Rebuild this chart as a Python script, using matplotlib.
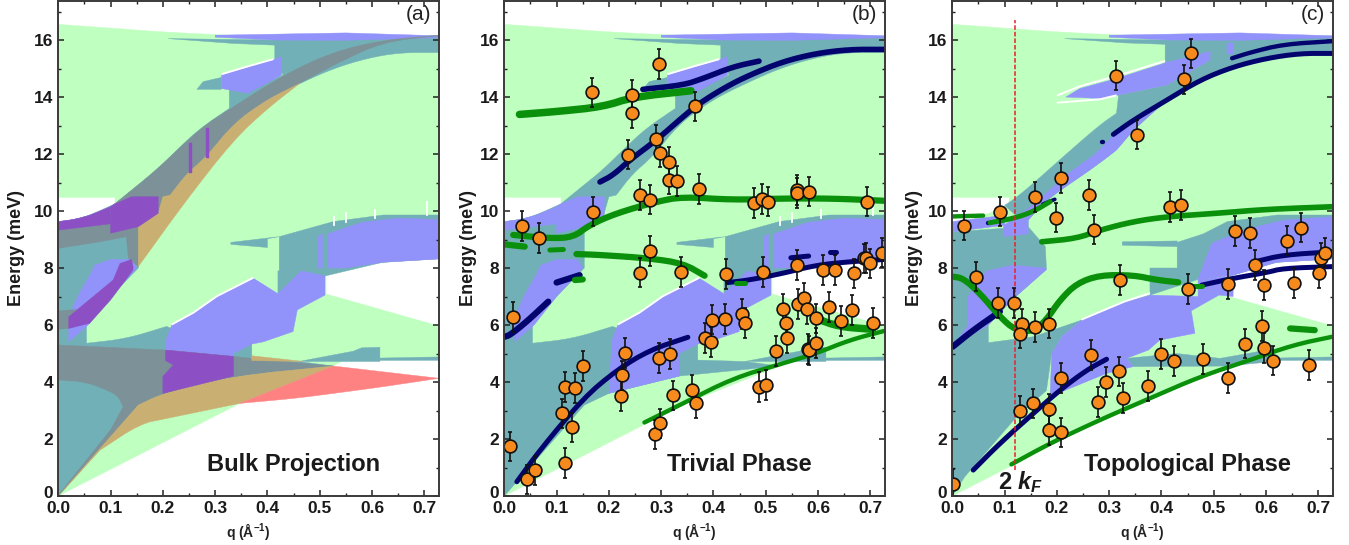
import matplotlib
matplotlib.use('Agg')
import matplotlib.pyplot as plt
from matplotlib.ticker import MultipleLocator
from matplotlib.transforms import ScaledTranslation

plt.rcParams['font.family'] = ['Liberation Sans', 'DejaVu Sans']
plt.rcParams['mathtext.fontset'] = 'custom'
plt.rcParams['mathtext.rm'] = 'Liberation Sans:bold'
plt.rcParams['mathtext.bf'] = 'Liberation Sans:bold'
plt.rcParams['mathtext.it'] = 'Liberation Sans:italic:bold'

GREEN = '#bfffbf'; TEAL = '#72b0b8'; BLUE = '#9292fb'; GREY = '#7d9298'
PURPLE = '#8c50c4'; TAN = '#c9b072'; RED = '#ff8282'; NAVY = '#04046e'; DGREEN = '#0a900a'
ORANGE = '#f78a1d'


def S(pts, n=2):
    """Corner-cutting used only to draw read-off outlines as smooth curves."""
    for _ in range(n):
        out = [pts[0]]
        for a, b in zip(pts[:-1], pts[1:]):
            out.append((.75*a[0]+.25*b[0], .75*a[1]+.25*b[1]))
            out.append((.25*a[0]+.75*b[0], .25*a[1]+.75*b[1]))
        out.append(pts[-1])
        pts = out
    return pts


# ---- regions (q, E) ----
green_top = [(.35,16.15),(.2,16.28),(.1,16.42),(0,16.55)]
green_outer = [(0,0),(.347,3.25),(.526,4.56),(.545,4.76),(.728,4.78),(.728,16.15)] + S(green_top)
white_topleft = [(0,10.46),(.108,10.46)] + S([(.108,10.25),(.06,9.85),(.03,9.7),(0,9.63)])
white_wedge = [(.513,7.1),(.728,5.98)] + S([(.728,8.32),(.62,8.2),(.56,7.95),(.513,7.74)])

edge_lens = [(.054,5.36),(.13,5.52),(.207,5.95)]
edge_band_up = [(.108,10.25),(.148,10.85),(.188,11.44),(.23,12.2),(.271,12.9),(.327,13.6)]
edge_band_low = [(.214,10.56),(.245,11.3),(.283,11.9),(.335,13.07),(.398,13.9),(.462,14.48),(.526,15.0),(.59,15.36),(.653,15.56),(.728,15.56)]
edge_left = [(0,9.63),(.03,9.7),(.06,9.85),(.108,10.25)]

teal_main = ([(0,0),(.153,3.19),(.2,3.6),(.335,4.21),(.526,4.56),(.46,4.72),(.37,4.77),(.37,5.35),(.335,5.0)]
             + S(edge_lens[::-1]) + [(.054,6.05),(.1,7.0),(.153,8.0),(.153,9.45),(.191,9.92),(.2,10.5)]
             + S(edge_band_low) + [(.728,16.1),(.414,16.0),(.21,16.05),(.335,15.88),(.414,15.82),(.414,15.3),
             (.43,14.77),(.39,14.45),(.327,14.25)] + S(edge_band_up[::-1]) + S(edge_left[::-1]))
teal_patch = [(.265,14.27),(.277,14.54),(.312,14.69),(.312,14.27)]
teal_mid = [(.4225,9.1),(.526,9.63),(.621,9.86),(.728,9.86),(.728,8.32),(.62,8.2),(.51,7.72),(.465,7.75),
            (.42,7.1),(.42,7.9),(.4225,7.9)]
teal_streak = [(.33,8.83),(.4,8.72),(.4,9.03),(.4225,9.1),(.33,8.9)]
teal_strip = [(.46,4.72),(.526,4.95),(.564,5.08),(.58,5.2),(.615,5.22),(.615,4.72)]
teal_dots = [(.615,4.76),(.728,4.76),(.728,4.88),(.615,4.84)]

blue_lower = [(.2,3.6),(.335,4.21),(.335,5.0),(.37,5.33),(.392,5.41),(.449,5.77),(.457,6.53),(.51,7.05),(.51,7.72),
              (.465,7.9),(.42,7.1),(.373,7.64),(.303,6.99),(.258,6.41),(.217,6.0),(.206,5.47)]
blue_mid = [(.516,8.0),(.516,9.2),(.58,9.6),(.65,9.75),(.728,9.7),(.728,8.32),(.62,8.2),(.55,8.0)]
blue_stick = [(.497,8.0),(.497,9.1),(.505,9.2),(.505,8.0)]
blue_diag = [(.02,5.42),(.057,6.0),(.1,7.0),(.15,8.0),(.14,8.3),(.1,8.3),(.07,8.1),(.065,7.9),(.04,7.1),(.02,6.3)]
blue_patch = [(.1,10.15),(.108,10.25),(.14,10.5),(.191,10.5),(.191,9.8),(.155,9.45),(.1,9.22)]
blue_strip = S(edge_left[:3]) + [(.1,10.15),(.1,9.55),(0,9.33)]
blue_cap = [(.3,16.17),(.55,16.25),(.728,16.15),(.728,16.08),(.55,15.99),(.414,16.0),(.3,16.1)]
blue_upper = [(.312,14.78),(.363,15.06),(.411,15.3),(.427,15.42),(.427,14.77),(.363,14.13),(.312,14.3)]
white_line_ab = [(.312,14.8),(.363,15.08),(.411,15.33)]
white_line_lower = [(.217,6.02),(.258,6.43),(.303,7.01),(.373,7.66)]
white_ticks_q = [.527,.551,.605,.706]
white_ticks_top = [9.8,9.92,10.05,10.33]
white_ticks_bot = [9.5,9.62,9.74,9.86]

# panel (a) red overlays
grey_band = ([(0,9.33),(.1,9.55),(.1,10.15)] + S([(.108,10.25),(.188,11.44),(.271,12.9),(.335,13.66),(.43,14.77),(.526,15.59),
             (.621,16.0),(.728,16.17)]) + S([(.728,16.15),(.621,15.94),(.526,15.12),(.462,14.48),(.398,13.9),(.335,13.07),(.283,11.9),
             (.245,11.3),(.214,10.56)]) + [(.2,10.5),(.191,9.92),(.153,9.45),(.153,8.05),(.134,8.34),(.13,9.1),(.08,8.92),(0,8.69)])
tan_band = ([(.153,8.05),(.153,9.45),(.191,9.92),(.2,10.5)] + S([(.214,10.56),(.245,11.3),(.283,11.9),(.335,13.07),(.398,13.9),
            (.462,14.48)]) + S([(.462,14.48),(.4,13.6),(.335,12.49),(.245,10.39),(.153,8.05)]))
purple_patch = [(.1,10.15),(.108,10.25),(.14,10.5),(.191,10.5),(.191,9.92),(.153,9.45),(.1,9.22)]
purple_strip = S(edge_left[:3]) + [(.1,10.15),(.1,9.55),(0,9.33)]
purple_diag = [(.02,5.88),(.02,6.29),(.105,7.58),(.118,8.16),(.14,8.3),(.143,8.05),(.143,7.93),(.1,6.88),(.06,6.06)]
purple_stick1 = [(.25,11.35),(.255,11.35),(.255,12.4),(.25,12.4)]
purple_stick2 = [(.283,11.85),(.288,11.85),(.288,12.9),(.283,12.9)]
grey_low = ([(0,4.05),(0,5.3),(.207,5.12),(.335,4.9),(.37,4.83),(.526,4.56)]
            + S([(.526,4.56),(.335,4.21),(.2,3.6),(.153,3.19)]) + [(0,0)])
teal_lens = [(0,.05),(.1,2.35)] + S([(.123,3.13),(.115,3.45),(.1,3.65),(.05,4.0),(0,4.05)])
grey_oval = [(0,6.5),(.04,6.55),(.02,5.88),(0,5.85)]
tan_low = ([(0,0)] + S([(.08,1.61),(.156,2.53),(.207,2.72),(.27,2.96),(.347,3.25)]) + [(.526,4.56)]
           + S([(.526,4.56),(.335,4.21),(.2,3.6),(.153,3.19)]))
tan_sliver = [(.37,4.92),(.37,4.75),(.47,4.72)]
purple_low = [(.2,3.6),(.335,4.21),(.335,4.9),(.205,5.12),(.205,4.75),(.22,4.6),(.2,4.2)]
red_low = S([(.347,3.25),(.45,3.42),(.526,3.6),(.62,3.83),(.728,4.13)]) + [(.526,4.56)]

# panel (c) regions
teal_c_lower = [(0,0),(.024,.68),(.123,2.78),(.18,3.7),(.19,5.0),(.21,5.6),(.247,6.17),(.155,5.59),(.069,5.38),(.069,6.0),(.115,6.9),(.18,7.95),
                (.178,8.75),(.145,9.45),(0,9.27)]
teal_c_band = ([(.145,9.45)] + S([(.145,9.68),(.18,10.39),(.263,11.44),(.289,11.79),(.314,12.14),(.346,12.84),(.41,13.89),(.474,14.6),
               (.537,15.12),(.601,15.36),(.665,15.53),(.728,15.53)]) + [(.728,16.1),(.407,16.0),(.215,16.05),(.33,15.9),(.407,15.85),
               (.407,15.2),(.493,15.3),(.41,14.42),(.318,14.07),(.314,13.43)] + S([(.314,13.43),(.282,13.02),(.219,12.02),(.155,10.97),(.12,10.44),(.1,10.2)]))
teal_c_mid = [(.43,8.9),(.48,9.2),(.526,9.63),(.621,9.86),(.728,9.86),(.728,8.32),(.62,8.2),(.537,7.75),(.47,7.6),(.378,7.05),
              (.378,8.0),(.43,8.0)]
teal_c_streak = [(.325,8.8),(.43,8.75),(.43,8.95),(.325,8.92)]
teal_c_strip = [(.333,4.83),(.429,5.0),(.512,4.83),(.58,5.05),(.615,5.2),(.615,4.72),(.526,4.56),(.346,4.54)]
blue_c_lower = [(.187,3.49),(.295,4.3),(.346,4.54),(.333,4.83),(.375,5.12),(.397,5.47),(.464,5.71),(.457,6.5),(.51,7.05),(.537,7.0),
                (.537,7.72),(.47,7.6),(.47,7.0),(.378,7.05),(.33,6.8),(.247,6.17),(.21,5.6),(.19,5.0)]
blue_c_mid = [(.496,8.87),(.56,9.35),(.633,9.68),(.727,9.8),(.728,8.32),(.62,8.2),(.537,7.75),(.47,7.6)]
blue_c_diag = [(0,5.24),(.069,6.0),(.115,6.9),(.18,7.95),(.178,8.0),(.115,8.1),(.065,7.9),(.03,7.0),(.03,6.0)]
blue_c_strip = [(0,9.63),(.1,9.85),(.1,9.5),(0,9.27)]
blue_c_small = [(.098,9.1),(.145,9.2),(.145,9.68),(.12,9.75),(.098,9.5)]
blue_c_band = [(.12,9.75),(.16,10.3),(.22,11.3),(.27,11.95),(.29,12.3),(.32,12.9),(.37,13.4),(.41,13.89),(.346,12.84),(.314,12.14),
               (.289,11.79),(.263,11.44),(.18,10.39),(.145,9.68)]
blue_c_top = [(.217,14.0),(.244,14.3),(.314,14.65),(.407,15.2),(.493,15.6),(.493,15.3),(.41,14.42),(.318,14.07),(.282,13.95)]
blue_c_small2 = [(.525,15.5),(.525,15.88),(.537,15.88),(.537,15.5)]
white_c_1 = [(.2,14.05),(.244,14.38),(.314,14.74),(.407,15.27)]
white_c_2 = [(.2,13.8),(.282,13.92),(.314,14.06)]
white_c_3 = [(.247,6.19),(.33,6.83),(.378,7.12)]

# ---- phonon lines ----
b_navy = [
 ([.183,.208,.24,.291,.342,.373,.424,.469,.532,.596,.66,.726],[11.02,11.26,11.79,12.49,13.31,13.78,14.36,14.77,15.24,15.53,15.67,15.67],4.5),
 ([.265,.342,.38,.437,.487],[14.27,14.42,14.65,15.06,15.26],4.5),
 ([.001,.011,.043,.084],[5.59,5.65,6.12,6.82],5),
 ([.1,.144],[7.49,7.75],5),
 ([.427,.469,.532,.596,.66,.726],[7.49,7.58,7.81,8.1,8.22,8.3],4),
 ([.548,.582],[8.36,8.42],4),
 ([.622,.634],[8.55,8.55],4),
 ([.024,.068,.151,.215,.278,.351],[.5,1.61,3.43,4.42,5.12,5.57],4),
]
b_green = [
 ([.029,.1,.189,.246,.357],[13.39,13.49,13.66,14.0,14.22],6),
 ([.017,.087,.132,.163,.214,.291,.342,.437,.532,.628,.726],[9.16,9.04,9.08,9.51,9.92,10.33,10.5,10.39,10.44,10.44,10.36],5),
 ([0,.039],[8.83,8.75],5),
 ([.087,.113],[8.63,8.65],4),
 ([.138,.183,.278,.342,.383],[8.49,8.46,8.34,8.16,7.73],5),
 ([.135,.15],[7.58,7.6],5),
 ([.443,.461],[7.49,7.49],4),
 ([.268,.342,.437,.532,.596,.66,.726],[2.58,3.25,4.13,4.65,5.0,5.47,5.79],3.5),
 ([.596,.64,.704],[6.23,5.94,5.85],6),
]
c_navy = [
 ([.308,.346,.41,.474,.537,.601,.665,.727],[12.69,13.19,13.89,14.6,15.06,15.36,15.53,15.53],4),
 ([.287,.2875],[12.43,12.43],3.5),
 ([.535,.569,.633,.727],[15.36,15.56,15.85,15.96],3.5),
 ([.001,.04,.091],[5.24,5.82,6.47],5),
 ([.04,.091,.155,.206,.257,.295],[.91,1.85,2.9,3.72,4.42,4.8],4),
 ([.477,.537,.601,.633,.727],[7.4,7.64,7.84,7.99,8.05],4),
 ([.579,.633,.727],[8.22,8.46,8.57],4),
 ([.069,.0695],[9.59,9.59],3.5),
 ([.173,.196],[10.24,10.41],3),
]
c_green = [
 ([0,.059],[9.81,9.84],3.5),
 ([.072,.117,.155,.187],[9.59,9.74,9.98,10.33],4),
 ([.171,.238,.282,.346,.41,.505,.601,.727],[8.92,9.04,9.33,9.63,9.8,9.92,10.06,10.15],4.5),
 ([0,.021,.053,.091,.12,.155,.18,.206,.238,.282,.346,.391,.432],[7.7,7.64,7.11,6.29,5.82,5.77,6.18,6.88,7.46,7.75,7.75,7.58,7.5],5),
 ([.461,.477],[7.38,7.38],4),
 ([.646,.693],[5.88,5.82],5),
 ([.113,.187,.282,.378,.474,.569,.652,.727],[1.11,1.85,2.67,3.43,4.19,4.77,5.3,5.59],3.5),
]

# ---- measured points ----
b_q = [.033,.066,.169,.167,.245,.245,.295,.364,.291,.236,.298,.314,.314,.331,.373,.259,.279,.478,.493,.505,.56,.56,.583,.694,.279,.26,.338,.423,.495,.56,.61,.632,.669,.687,.691,.699,.722,
       .016,.011,.043,.059,.116,.11,.117,.136,.15,.13,.223,.226,.23,.296,.316,.322,.358,.366,.289,.298,.383,.396,.398,.422,.454,.461,.488,.5,.52,.533,.539,.541,.562,.574,.578,.58,.583,.596,.597,.62,.644,.665,.705]
b_E = [9.47,9.06,9.98,14.16,14.08,13.45,15.15,13.67,12.51,11.98,12.05,11.73,11.1,11.06,10.78,10.56,10.4,10.29,10.43,10.33,10.74,10.64,10.68,10.33,8.6,7.84,7.87,7.78,7.87,8.1,7.93,7.93,7.81,8.34,8.36,8.16,8.54,
       6.28,1.74,.58,.9,1.15,2.9,3.82,3.79,4.56,2.41,3.5,4.23,5.02,4.84,4.98,3.53,3.72,3.26,2.16,2.55,5.54,5.41,6.19,6.21,6.39,6.07,3.82,3.89,5.09,6.56,6.07,5.54,6.74,6.94,6.56,5.16,5.11,5.37,6.23,6.64,6.14,6.53,6.07]
c_q = [.022,.091,.159,.207,.199,.261,.271,.313,.354,.443,.456,.416,.437,.54,.57,.64,.667,.579,.706,.713,
       .045,.087,.118,.134,.129,.159,.185,.001,.129,.155,.185,.185,.208,.208,.266,.279,.293,.318,.326,.321,.375,.399,.424,.451,.479,.528,.528,.559,.592,.596,.596,.613,.653,.682,.701]
c_E = [9.49,9.98,10.5,11.17,9.77,10.56,9.35,14.75,12.68,14.62,15.53,10.14,10.22,9.31,9.23,8.96,9.42,8.1,8.36,8.54,
       7.7,6.77,6.77,6.05,5.7,5.93,6.05,.41,3.0,3.25,3.05,2.3,2.23,4.13,4.95,3.29,4.01,4.37,3.44,7.58,3.85,4.98,4.74,7.26,4.81,7.45,4.13,5.35,5.96,7.4,5.2,4.75,7.47,4.6,7.81]
err = 0.52

kf_q = [.12, .12]
kf_E = [.9, 16.7]

W, H = 1349, 545
fig = plt.figure(figsize=(W/100, H/100), dpi=100)
TOP, BOT = 1.0, 496.0
YMAX = 17.37
XMAX = 0.728
lefts = [58.3, 504.3, 952.3]
axs = [fig.add_axes([l/W, (H-BOT)/H, 380.7/W, (BOT-TOP)/H]) for l in lefts]


def poly(ax, pts, color, z=1):
    xs, ys = zip(*pts)
    ax.fill(xs, ys, color=color, lw=0.3, zorder=z)


def thin(ax, pts, color='white', lw=1.4, z=2):
    xs, ys = zip(*pts)
    ax.plot(xs, ys, color=color, lw=lw, zorder=z, solid_capstyle='butt')


def base(ax):
    poly(ax, green_outer, GREEN)
    poly(ax, white_topleft, 'white')
    poly(ax, white_wedge, 'white')


def ab_layers(ax):
    base(ax)
    for p in (teal_main, teal_patch, teal_mid, teal_streak, teal_strip, teal_dots):
        poly(ax, p, TEAL)
    for p in (blue_lower, blue_mid, blue_stick, blue_diag, blue_patch, blue_strip, blue_cap, blue_upper):
        poly(ax, p, BLUE)
    thin(ax, white_line_ab)
    thin(ax, white_line_lower)
    for q, a, b in zip(white_ticks_q, white_ticks_bot, white_ticks_top):
        ax.plot([q, q], [a, b], color='white', lw=1.3, zorder=2)


def lines(ax, items, color):
    for xs, ys, lw in items:
        pts = S(list(zip(xs, ys))) if len(xs) > 2 else list(zip(xs, ys))
        px, py = zip(*pts)
        ax.plot(px, py, color=color, lw=lw/1.39*1.25, zorder=4, solid_capstyle='round', solid_joinstyle='round')


def points(ax, q, E):
    ax.errorbar(q, E, yerr=err, fmt='o', ms=9.2, mfc=ORANGE, mec='#111111', mew=1.2,
                ecolor='#111111', elinewidth=1.2, capsize=1.6, capthick=1.1, zorder=6)


# panel a
ab_layers(axs[0])
poly(axs[0], grey_band, GREY, 3)
poly(axs[0], tan_band, TAN, 3)
for p in (purple_patch, purple_strip, purple_diag, purple_stick1, purple_stick2):
    poly(axs[0], p, PURPLE, 3.2)
poly(axs[0], grey_low, GREY, 3)
poly(axs[0], teal_lens, TEAL, 3.1)
poly(axs[0], grey_oval, GREY, 3.1)
poly(axs[0], tan_low, TAN, 3.1)
poly(axs[0], tan_sliver, TAN, 3.1)
poly(axs[0], purple_low, PURPLE, 3.2)
poly(axs[0], red_low, RED, 3.1)

# panel b
ab_layers(axs[1])
lines(axs[1], b_navy, NAVY)
lines(axs[1], b_green, DGREEN)
points(axs[1], b_q, b_E)

# panel c
base(axs[2])
for p in (teal_c_lower, teal_c_band, teal_c_mid, teal_c_streak, teal_c_strip, teal_dots):
    poly(axs[2], p, TEAL)
for p in (blue_cap, blue_c_lower, blue_c_mid, blue_c_diag, blue_c_strip, blue_c_small, blue_c_band, blue_c_top, blue_c_small2):
    poly(axs[2], p, BLUE)
thin(axs[2], white_c_1)
thin(axs[2], white_c_2)
thin(axs[2], white_c_3)
lines(axs[2], c_navy, NAVY)
lines(axs[2], c_green, DGREEN)
axs[2].plot(kf_q, kf_E, color='#e8202a', lw=1.1, ls=(0, (3, 1.3)), zorder=5)
points(axs[2], c_q, c_E)

labels = ['(a)', '(b)', '(c)']
names = ['Bulk Projection', 'Trivial Phase', 'Topological Phase']
ylab_x = [-.0875, -.0717, -.077]
for ax, lab, nm, yx in zip(axs, labels, names, ylab_x):
    ax.set_xlim(0, XMAX)
    ax.set_ylim(0, YMAX)
    ax.xaxis.set_major_locator(MultipleLocator(.1))
    ax.xaxis.set_minor_locator(MultipleLocator(.05))
    ax.yaxis.set_major_locator(MultipleLocator(2))
    ax.yaxis.set_minor_locator(MultipleLocator(1))
    ax.tick_params(which='major', direction='in', length=4, width=1.1, top=True, right=True, color='#222222')
    ax.tick_params(which='minor', direction='in', length=2.3, width=1.0, top=True, right=True, color='#222222')
    ax.tick_params(axis='x', which='major', pad=3.8)
    ax.tick_params(axis='y', which='major', pad=3.5)
    for s in ax.spines.values():
        s.set_linewidth(1.4)
        s.set_color('#3a3a3a')
        s.set_zorder(8)
    for t in ax.get_xticklabels() + ax.get_yticklabels():
        t.set_fontweight('bold')
        t.set_fontsize(12.5)
        t.set_color('#1a1a1a')
    fig.canvas.draw()
    for t in ax.get_yticklabels():
        if t.get_text() == '0':
            t.set_transform(t.get_transform() + ScaledTranslation(0, 3/72, fig.dpi_scale_trans))
    ax.set_xlabel('q (Å$^{-1}$)', fontsize=10, fontweight='bold', color='#222222', labelpad=3.5)
    ax.set_ylabel('Energy (meV)', fontsize=13, fontweight='bold', color='#1a1a1a')
    ax.yaxis.set_label_coords(yx, 0.5)
    ax.text(.979, .992, lab, transform=ax.transAxes, ha='right', va='top', fontsize=15, color='#222222', zorder=9)
    ax.text(.45, 1.12, nm, ha='center', va='center', fontsize=17, fontweight='bold', color='#1a1a1a', zorder=9)

axs[2].text(.131, .48, '2 $\\mathit{k_F}$', ha='center', va='center', fontsize=17, fontweight='bold', color='#1a1a1a', zorder=9)

fig.savefig('out.png', dpi=100)
